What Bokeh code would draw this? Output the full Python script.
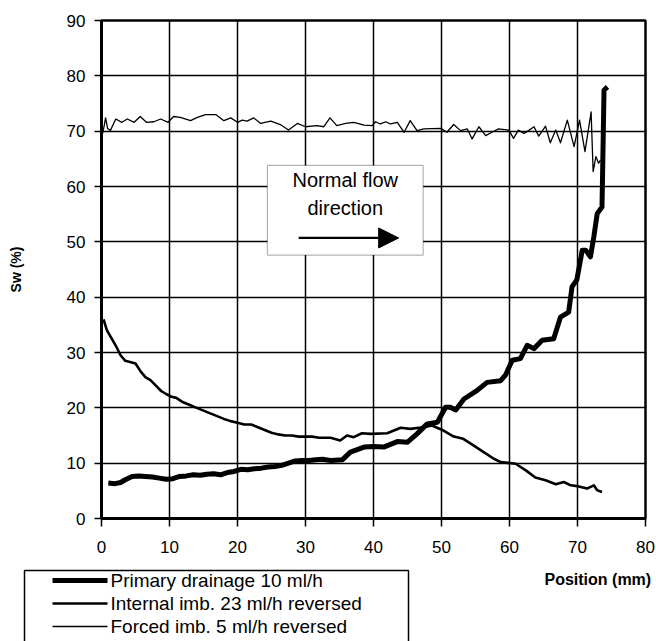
from bokeh.plotting import figure
from bokeh.layouts import column
from bokeh.models import (Label, BoxAnnotation, Arrow, NormalHead, FixedTicker, Range1d)
from bokeh.embed import file_html
from bokeh.resources import INLINE

# ---------------- data ----------------
x_ticks = [0, 10, 20, 30, 40, 50, 60, 70, 80]
y_ticks = [0, 10, 20, 30, 40, 50, 60, 70, 80, 90]

series_names = ["Primary drainage 10 ml/h",
                "Internal imb. 23 ml/h reversed",
                "Forced imb. 5 ml/h reversed"]

drain_x = [1.0, 2.0, 2.8, 3.5, 4.5, 5.5, 6.5, 7.5, 8.5, 9.5, 10.5, 11.5, 12.5, 13.5, 14.5,
           15.5, 16.5, 17.5, 18.5, 19.5, 20.5, 21.5, 22.5, 23.5, 24.5, 25.5, 26.5, 27.5,
           28.5, 29.5, 30.5, 31.5, 32.5, 33.7, 35.4, 36.6, 38.6, 40.1, 41.5, 43.5, 45.0,
           46.4, 47.9, 49.4, 50.6, 51.3, 52.1, 53.3, 55.2, 56.7, 58.7, 59.4, 60.4, 61.6,
           62.6, 63.6, 64.8, 66.5, 67.5, 68.7, 69.2, 69.9, 70.7, 71.2, 71.9, 72.4, 72.9,
           73.6, 73.7, 73.9, 74.4]
drain_y = [6.4, 6.3, 6.5, 7.0, 7.6, 7.7, 7.6, 7.5, 7.3, 7.1, 7.2, 7.6, 7.7, 7.9, 7.8,
           8.0, 8.1, 7.9, 8.3, 8.5, 8.9, 8.8, 9.0, 9.1, 9.3, 9.4, 9.6, 10.0,
           10.4, 10.5, 10.5, 10.6, 10.7, 10.5, 10.6, 12.0, 12.9, 13.0, 12.9, 13.9, 13.8,
           15.3, 17.1, 17.4, 20.1, 20.1, 19.6, 21.6, 23.1, 24.6, 24.9, 25.9, 28.6, 28.9,
           31.3, 30.7, 32.2, 32.5, 36.4, 37.3, 41.9, 43.1, 48.5, 48.5, 47.3, 50.9, 55.1,
           56.3, 63.0, 77.4, 78.0]

internal_x = [0.3, 0.8, 1.5, 2.2, 2.8, 3.5, 4.2, 5.0, 5.8, 6.5, 7.2, 8.0, 8.8, 9.5, 10.3,
              11.0, 12.0, 13.0, 14.0, 15.0, 16.0, 17.0, 18.0, 19.0, 20.0, 21.0, 22.0, 23.0,
              24.0, 25.0, 26.0, 27.0, 28.0, 29.0, 30.0, 31.0, 32.0, 33.0, 33.7, 35.1, 36.1,
              37.1, 38.3, 39.6, 42.0, 44.0, 45.4, 47.4, 48.6, 50.3, 51.8, 53.2, 54.7, 56.2,
              57.7, 58.7, 59.4, 60.9, 62.4, 63.8, 65.3, 66.8, 68.0, 69.0, 70.2, 71.4, 72.4,
              72.9, 73.6]
internal_y = [36.0, 34.0, 32.5, 31.0, 29.5, 28.5, 28.3, 28.0, 26.5, 25.5, 25.0, 24.0, 23.0,
              22.5, 22.0, 21.8, 21.0, 20.5, 20.0, 19.5, 19.0, 18.5, 18.0, 17.6, 17.3, 17.0,
              17.0, 16.5, 16.0, 15.5, 15.2, 15.0, 15.0, 14.8, 14.8, 14.8, 14.6, 14.6, 14.6,
              14.1, 15.0, 14.7, 15.4, 15.3, 15.4, 16.4, 16.2, 16.5, 16.8, 15.9, 14.8, 14.4,
              13.2, 12.0, 10.8, 10.2, 10.1, 9.9, 8.7, 7.4, 6.9, 6.2, 6.6, 6.0, 5.8, 5.4, 6.0,
              5.1, 4.8]

forced_x = [0.1, 0.4, 0.6, 0.9, 1.3, 2.1, 3.0, 3.8, 4.8, 5.7, 6.6, 7.7, 8.7, 9.8, 10.6,
            11.6, 13.1, 14.1, 15.3, 16.8, 18.0, 19.0, 20.0, 20.7, 21.4, 22.4, 23.4, 24.9,
            26.3, 27.5, 28.8, 30.0, 31.7, 32.7, 33.6, 34.6, 35.9, 37.1, 38.6, 39.8, 40.3,
            41.0, 41.8, 42.5, 43.5, 44.5, 45.4, 46.4, 47.4, 49.9, 50.8, 51.8, 52.8, 53.8,
            54.5, 55.5, 56.5, 57.4, 58.4, 59.9, 60.6, 61.3, 62.1, 62.8, 63.6, 64.3, 65.3,
            66.0, 66.8, 67.5, 68.5, 69.5, 70.3, 71.1, 72.0, 72.3, 72.7, 73.1, 73.4]
forced_y = [69.3, 71.0, 72.4, 70.5, 70.1, 72.2, 71.6, 72.2, 71.6, 72.65, 71.6, 71.7, 72.2,
            71.6, 72.65, 72.5, 71.9, 72.5, 73.0, 73.0, 71.9, 72.4, 71.6, 72.0, 71.8, 72.4,
            71.4, 71.8, 71.2, 70.2, 71.4, 70.8, 71.0, 70.8, 72.4, 71.0, 71.4, 71.6, 71.1,
            71.0, 71.7, 71.3, 71.7, 71.3, 71.6, 69.8, 71.9, 70.1, 70.4, 70.5, 69.8, 71.2,
            70.1, 70.4, 68.6, 70.8, 69.2, 69.8, 70.4, 70.2, 68.7, 70.2, 69.6, 70.1, 70.8,
            69.1, 70.9, 67.9, 70.2, 67.9, 72.0, 67.2, 72.0, 66.3, 73.5, 62.7, 65.4, 64.2,
            64.8]

# ---------------- main figure ----------------
FONT = "Liberation Sans"
W = 656
H_MAIN, H_LEG = 568, 73

p = figure(width=W, height=H_MAIN, x_range=Range1d(0, 80), y_range=Range1d(0, 90),
           output_backend="svg", toolbar_location=None,
           min_border_left=101, min_border_right=11, min_border_top=20, min_border_bottom=50)
p.frame_align = False
p.background_fill_color = "white"
p.border_fill_color = "white"
p.outline_line_color = "black"
p.outline_line_width = 2.5

for g, t in ((p.xgrid, x_ticks), (p.ygrid, y_ticks)):
    g.ticker = FixedTicker(ticks=t)
    g.grid_line_color = "black"
    g.grid_line_width = 1.5

for ax, t in ((p.xaxis, x_ticks), (p.yaxis, y_ticks)):
    ax.ticker = FixedTicker(ticks=t)
    ax.axis_line_color = "black"
    ax.axis_line_width = 3
    ax.major_tick_line_color = "black"
    ax.major_tick_line_width = 1.5
    ax.major_tick_in = 0
    ax.minor_tick_in = 0
    ax.minor_tick_out = 0
    ax.major_label_text_font = FONT
    ax.major_label_text_font_size = "17px"
    ax.major_label_text_color = "black"

p.xaxis.major_tick_out = 8
p.xaxis.major_label_standoff = 14
p.yaxis.major_tick_out = 7
p.yaxis.major_label_standoff = 9
p.yaxis.axis_label = "Sw (%)"
p.yaxis.axis_label_text_font = FONT
p.yaxis.axis_label_text_font_style = "bold"
p.yaxis.axis_label_text_font_size = "14px"
p.yaxis.axis_label_text_color = "black"
p.yaxis.axis_label_standoff = 40

styles = [dict(line_color="black", line_width=5, line_join="round"),
          dict(line_color="black", line_width=2.6, line_join="round"),
          dict(line_color="black", line_width=1.3, line_join="round")]

p.line(drain_x, drain_y, **styles[0])
p.line(internal_x, internal_y, **styles[1])
p.line(forced_x, forced_y, **styles[2])

# annotation box with arrow
box = BoxAnnotation(left=24.4, right=47.3, bottom=47.6, top=63.8,
                    fill_color="white", fill_alpha=1.0, line_color="black", line_width=1.2)
p.add_layout(box)
for txt, yy in (("Normal flow", 61.1), ("direction", 56.2)):
    p.add_layout(Label(x=35.85, y=yy, text=txt, text_align="center", text_baseline="middle",
                       text_font=FONT, text_font_size="20px", text_color="black"))
p.add_layout(Arrow(end=NormalHead(size=20, fill_color="black", line_color="black"),
                   x_start=29.0, y_start=50.7, x_end=43.7, y_end=50.7,
                   line_color="black", line_width=2.3))

# ---------------- legend strip (below the axes, pixel coordinates) ----------------
q = figure(width=W, height=H_LEG, x_range=Range1d(0, W), y_range=Range1d(H_LEG, 0),
           output_backend="svg", toolbar_location=None,
           x_axis_location=None, y_axis_location=None,
           min_border_left=0, min_border_right=0, min_border_top=0, min_border_bottom=0)
q.frame_align = False
q.background_fill_color = "white"
q.border_fill_color = "white"
q.outline_line_color = None
q.grid.visible = False

# legend frame (open at the bottom, it runs past the page edge)
q.line([24, 24, 408, 408], [H_LEG + 10, 2, 2, H_LEG + 10], line_color="black", line_width=1.5)

ROW0, ROW_STEP = 12, 23
for i, (name, s) in enumerate(zip(series_names, styles)):
    yy = ROW0 + ROW_STEP * i
    q.line([52, 107], [yy, yy], **s)
    q.add_layout(Label(x=110, y=yy, text=name, text_align="left", text_baseline="middle",
                       text_font=FONT, text_font_size="19px", text_color="black"))

q.add_layout(Label(x=544, y=11, text="Position (mm)", text_align="left",
                   text_baseline="middle", text_font=FONT, text_font_style="bold",
                   text_font_size="16px", text_color="black"))

layout = column(p, q, spacing=0)
open("out.html", "w").write(file_html(layout, INLINE))
